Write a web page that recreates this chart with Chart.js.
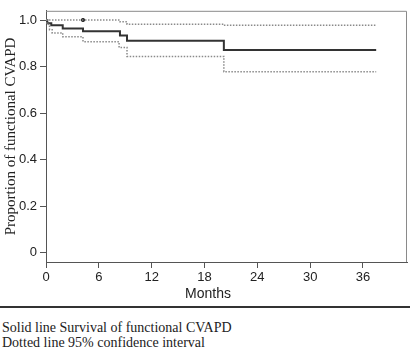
<!DOCTYPE html>
<html>
<head>
<meta charset="utf-8">
<script src="https://cdn.jsdelivr.net/npm/chart.js@4"></script>
<style>
  body { margin: 0; background: #fff; }
  #wrap { position: relative; width: 411px; height: 349px; }
  #xTitle { position: absolute; left: 158px; top: 285px; width: 100px; text-align: center;
    font: 14px "Liberation Sans", Arial, sans-serif; color: #222; }
  #rule { position: absolute; left: 0; top: 306px; width: 410px; border-top: 2px solid #333; }
  #note { position: absolute; left: 2px; top: 320px; font: 14px "Liberation Serif", "Times New Roman", serif;
    line-height: 15px; color: #222; }
</style>
</head>
<body>
<div id="wrap">
  <canvas id="kmChart" width="411" height="300"></canvas>
  <div id="xTitle">Months</div>
  <div id="rule"></div>
  <div id="note">Solid line Survival of functional CVAPD<br>Dotted line 95% confidence interval</div>
</div>
<script>
// 값들
let survMonths = [0, 0.15, 0.6, 1.9, 4.2, 8.4, 9.2, 20.2, 37.5];
let survValues = [1.0, 0.986, 0.978, 0.964, 0.952, 0.934, 0.911, 0.872, 0.872];

let upperMonths = [0, 8.4, 9.2, 20.2, 37.5];
let upperValues = [1.0, 0.993, 0.982, 0.978, 0.978];

let lowerMonths = [0, 0.1, 0.4, 0.7, 1.9, 4.2, 8.3, 9.2, 20.2, 37.5];
let lowerValues = [1.0, 0.982, 0.959, 0.945, 0.928, 0.907, 0.882, 0.844, 0.778, 0.778];

let censorMonths = [4.2];
let censorValues = [1.0];

let xTicks = [0, 6, 12, 18, 24, 30, 36];
let yTicks = [0, 0.2, 0.4, 0.6, 0.8, 1.0];

function toPoints(xs, ys) {
  return xs.map((x, i) => ({ x: x, y: ys[i] }));
}

// 위쪽, 오른쪽 테두리
let boxPlugin = {
  id: "box",
  afterDraw(chart) {
    let a = chart.chartArea;
    let ctx = chart.ctx;
    ctx.save();
    ctx.strokeStyle = "#8a8a8a";
    ctx.lineWidth = 1;
    ctx.beginPath();
    ctx.moveTo(a.left, a.top + 0.5);
    ctx.lineTo(a.right - 0.5, a.top + 0.5);
    ctx.lineTo(a.right - 0.5, a.bottom);
    ctx.stroke();
    ctx.restore();
  },
};

let tickFont = { family: "'Liberation Sans', Arial, sans-serif", size: 13 };

new Chart(document.querySelector("#kmChart"), {
  type: "line",
  data: {
    datasets: [
      {
        data: toPoints(upperMonths, upperValues),
        borderColor: "#8a8a8a",
        borderWidth: 1.5,
        borderDash: [1.5, 1.5],
        stepped: true,
        pointRadius: 0,
      },
      {
        data: toPoints(lowerMonths, lowerValues),
        borderColor: "#8a8a8a",
        borderWidth: 1.5,
        borderDash: [1.5, 1.5],
        stepped: true,
        pointRadius: 0,
      },
      {
        data: toPoints(survMonths, survValues),
        borderColor: "#333",
        borderWidth: 2,
        stepped: true,
        pointRadius: 0,
      },
      {
        type: "scatter",
        data: toPoints(censorMonths, censorValues),
        backgroundColor: "#111",
        borderWidth: 0,
        pointRadius: 2,
      },
    ],
  },
  options: {
    responsive: false,
    animation: false,
    layout: { padding: { top: 1, right: 1, left: 0, bottom: 0 } },
    plugins: { legend: { display: false }, tooltip: { enabled: false } },
    scales: {
      x: {
        type: "linear",
        min: 0,
        max: 41,
        afterBuildTicks: (s) => { s.ticks = xTicks.map((v) => ({ value: v })); },
        afterFit: (s) => { s.height = 38; },
        grid: { drawOnChartArea: false, drawTicks: true, tickLength: 6, color: "#555" },
        border: { display: true, color: "#555" },
        ticks: { font: tickFont, color: "#222", padding: 2, maxRotation: 0 },
      },
      y: {
        min: -0.04,
        max: 1.04,
        afterBuildTicks: (s) => { s.ticks = yTicks.map((v) => ({ value: v })); },
        afterFit: (s) => { s.width = 46; },
        grid: { drawOnChartArea: false, drawTicks: true, tickLength: 6, color: "#555" },
        border: { display: true, color: "#555" },
        ticks: {
          font: tickFont,
          color: "#222",
          padding: 3,
          callback: (v) => (v == 0 ? "0" : v.toFixed(1)),
        },
        title: {
          display: true,
          text: "Proportion of functional CVAPD",
          color: "#222",
          font: { family: "'Liberation Serif', 'Times New Roman', serif", size: 15, lineHeight: 1 },
          padding: { top: 4, bottom: 0 },
        },
      },
    },
  },
  plugins: [boxPlugin],
});
</script>
</body>
</html>
